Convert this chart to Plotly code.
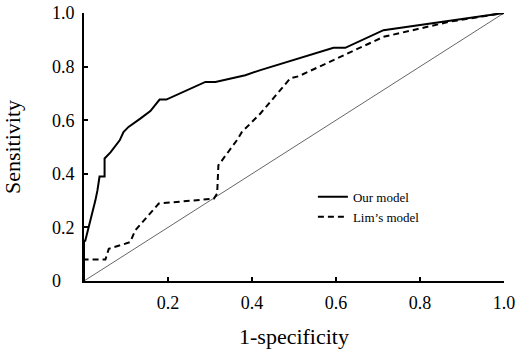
import plotly.graph_objects as go

# Data
our_fpr = [0, 0, 0.003, 0.011, 0.017, 0.027, 0.032, 0.037, 0.049, 0.049, 0.063, 0.075, 0.085,
           0.094, 0.106, 0.134, 0.151, 0.158, 0.180, 0.196, 0.289, 0.313, 0.384, 0.42,
           0.594, 0.622, 0.713, 0.888, 1.0]
our_tpr = [0, 0.15, 0.15, 0.20, 0.232, 0.30, 0.338, 0.39, 0.39, 0.457, 0.48, 0.506, 0.525,
           0.556, 0.575, 0.606, 0.625, 0.634, 0.677, 0.677, 0.743, 0.743, 0.768, 0.787,
           0.870, 0.870, 0.936, 0.974, 1.0]

lim_fpr = [0, 0, 0.051, 0.059, 0.11, 0.122, 0.178, 0.309, 0.317, 0.32, 0.364, 0.376, 0.42,
           0.491, 0.511, 0.713, 0.872, 1.0]
lim_tpr = [0, 0.08, 0.08, 0.12, 0.145, 0.189, 0.289, 0.307, 0.326, 0.432, 0.525, 0.556, 0.625,
           0.756, 0.764, 0.911, 0.968, 1.0]

ref_x = [0, 1]
ref_y = [0, 1]

tick_vals = [0, 0.2, 0.4, 0.6, 0.8, 1.0]
y_tick_text = ["0\u00a0\u00a0\u00a0", "0.2", "0.4", "0.6", "0.8", "1.0"]
x_tick_text = ["", "0.2", "0.4", "0.6", "0.8", "1.0"]

font_family = "Liberation Serif"

fig = go.Figure()
fig.add_trace(go.Scatter(x=ref_x, y=ref_y, mode="lines", showlegend=False,
                         line=dict(color="#666666", width=1)))
fig.add_trace(go.Scatter(x=our_fpr, y=our_tpr, mode="lines", name="Our model",
                         line=dict(color="black", width=2)))
fig.add_trace(go.Scatter(x=lim_fpr, y=lim_tpr, mode="lines", name="Lim\u2019s model",
                         line=dict(color="black", width=2, dash="6px,4px")))

fig.update_layout(
    width=518, height=349,
    margin=dict(l=84, r=14, t=13, b=68),
    paper_bgcolor="white", plot_bgcolor="white",
    font=dict(family=font_family, size=18, color="black"),
    legend=dict(x=0.545, y=0.37, xanchor="left", yanchor="top",
                font=dict(size=13, family=font_family), bgcolor="rgba(0,0,0,0)",
                tracegroupgap=0),
    xaxis=dict(range=[0, 1.0], tickvals=tick_vals, ticktext=x_tick_text,
               showgrid=False, zeroline=False, showline=True, linecolor="black",
               linewidth=2, ticks="inside", ticklen=4, tickwidth=1.5, tickcolor="black",
               automargin=False, ticklabeloverflow="allow",
               title=dict(text="1-specificity", standoff=22), ticklabelstandoff=4),
    yaxis=dict(range=[0, 1.0], tickvals=tick_vals, ticktext=y_tick_text,
               showgrid=False, zeroline=False, showline=True, linecolor="black",
               linewidth=2, ticks="inside", ticklen=4, tickwidth=1.5, tickcolor="black",
               automargin=False, ticklabeloverflow="allow",
               title=dict(text="Sensitivity", standoff=25), ticklabelstandoff=4),
)

# remove the page's default body margin so the figure fills the window exactly
fig.write_html("out.html", config={"displayModeBar": False},
               post_script="document.body.style.margin='0';")
